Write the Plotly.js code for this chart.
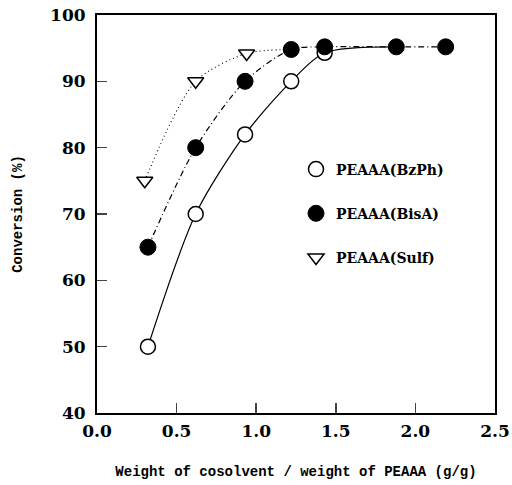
<!DOCTYPE html>
<html>
<head>
<meta charset="utf-8">
<script src="https://cdn.plot.ly/plotly-3.0.1.min.js"></script>
<style>html,body{margin:0;padding:0;background:#fff;}#chart{width:512px;height:485px;}</style>
</head>
<body>
<div id="chart"></div>
<script>
// Data
const xBzPh = [0.32, 0.62, 0.93, 1.22, 1.43];
const yBzPh = [50, 70, 82, 90, 94.3];
const xBisA = [0.32, 0.62, 0.93, 1.22, 1.43, 1.88, 2.19];
const yBisA = [65, 80, 90, 94.8, 95.2, 95.2, 95.2];
const xSulf = [0.30, 0.62, 0.94];
const ySulf = [75, 90, 94.2];
const lineSulfX = [0.30, 0.62, 0.94, 1.22];
const lineSulfY = [75, 90, 94.2, 94.8];
const names = ["PEAAA(BzPh)", "PEAAA(BisA)", "PEAAA(Sulf)"];
const xTicks = [0, 0.5, 1.0, 1.5, 2.0, 2.5];
const xTickText = ["0.0", "0.5", "1.0", "1.5", "2.0", "2.5"];
const yTicks = [40, 50, 60, 70, 80, 90, 100];

const serif = "DejaVu Serif, serif";
const mono = "Liberation Mono, Courier New, monospace";

const traces = [
  // curves
  {x: xBzPh.concat([1.88]), y: yBzPh.concat([95.2]), mode: "lines", line: {shape: "spline", smoothing: 0.8, color: "#000", width: 1.2}, showlegend: false, hoverinfo: "skip"},
  {x: xBisA, y: yBisA, mode: "lines", line: {shape: "spline", smoothing: 0.8, color: "#000", width: 1.2, dash: "6px,3px,1px,3px"}, showlegend: false, hoverinfo: "skip"},
  {x: lineSulfX, y: lineSulfY, mode: "lines", line: {shape: "spline", smoothing: 0.8, color: "#000", width: 1.1, dash: "1px,3px"}, showlegend: false, hoverinfo: "skip"},
  // markers
  {x: xBzPh, y: yBzPh, name: names[0], mode: "markers", legendgroup: "a",
   marker: {symbol: "circle", size: 15, color: "#fff", line: {color: "#000", width: 1.5}}},
  {x: xBisA, y: yBisA, name: names[1], mode: "markers", legendgroup: "b",
   marker: {symbol: "circle", size: 16, color: "#000", line: {color: "#000", width: 1}}},
  {x: xSulf, y: ySulf, name: names[2], mode: "markers", legendgroup: "c",
   marker: {symbol: "triangle-down", size: 14, color: "#fff", line: {color: "#000", width: 1.5}}}
];

const layout = {
  width: 512, height: 485,
  margin: {l: 97, r: 17, t: 15, b: 72},
  paper_bgcolor: "#fff", plot_bgcolor: "#fff",
  showlegend: true,
  legend: {x: 0.5, y: 0.652, xanchor: "left", yanchor: "top", bgcolor: "rgba(0,0,0,0)",
           font: {family: serif, size: 14, color: "#000", weight: "bold"},
           tracegroupgap: 23, traceorder: "grouped"},
  xaxis: {range: [0, 2.5], tickvals: xTicks, ticktext: xTickText, ticks: "inside", ticklen: 10, tickwidth: 1.5,
          showline: true, linewidth: 2, linecolor: "#000", mirror: true, showgrid: false, zeroline: false,
          tickfont: {family: serif, size: 17, color: "#000", weight: "bold"}, ticklabelstandoff: 2,
          title: {text: "Weight of cosolvent / weight of PEAAA (g/g)", font: {family: mono, size: 14, color: "#000", weight: "bold"}, standoff: 26}},
  yaxis: {range: [40, 100], tickvals: yTicks, ticks: "inside", ticklen: 10, tickwidth: 1.5,
          showline: true, linewidth: 2, linecolor: "#000", mirror: true, showgrid: false, zeroline: false,
          tickfont: {family: serif, size: 17, color: "#000", weight: "bold"}, ticklabelstandoff: 6,
          title: {text: "Conversion (%)", font: {family: mono, size: 14, color: "#000", weight: "bold"}, standoff: 24}}
};

Plotly.newPlot("chart", traces, layout, {staticPlot: true, displayModeBar: false});
</script>
</body>
</html>
